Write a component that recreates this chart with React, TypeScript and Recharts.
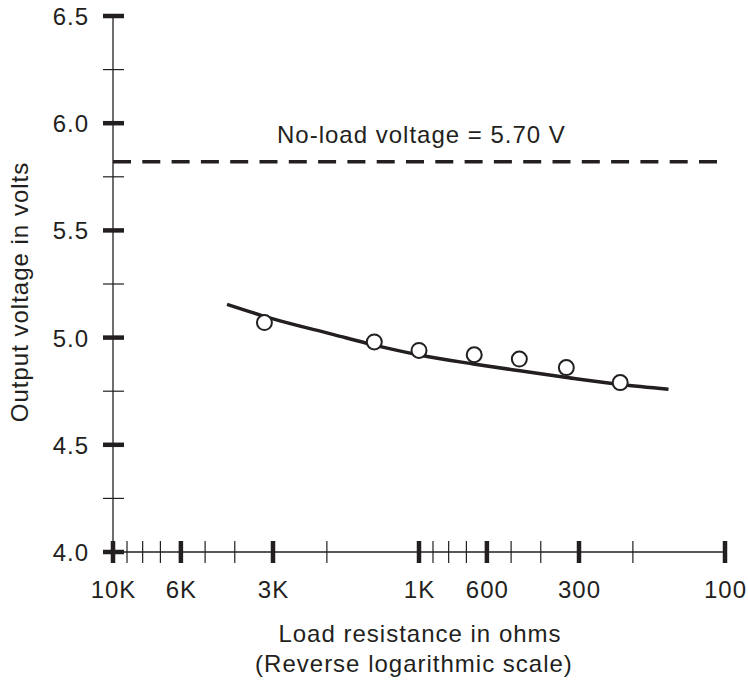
import { ComposedChart, Line, Scatter, XAxis, YAxis, ReferenceLine } from "recharts";

// load resistance ticks (ohms), reverse log scale
const xTicks = [10000, 9000, 8000, 7000, 6000, 5000, 4000, 3000, 2000, 1000, 900, 800, 700, 600, 500, 400, 300, 200, 100];
const xTickLabels = ["10K", "", "", "", "6K", "", "", "3K", "", "1K", "", "", "", "600", "", "", "300", "", "100"];

const yTicks = [4, 4.25, 4.5, 4.75, 5, 5.25, 5.5, 5.75, 6, 6.25, 6.5];
const yTickLabels = ["4.0", "", "4.5", "", "5.0", "", "5.5", "", "6.0", "", "6.5"];

// measured points
const measuredOhms = [3200, 1400, 1000, 660, 470, 330, 220];
const measuredVolts = [5.07, 4.98, 4.94, 4.92, 4.9, 4.86, 4.79];

// fitted curve
const fitOhms = [4240, 3060, 1900, 1410, 990, 664, 468, 329, 220, 153];
const fitVolts = [5.155, 5.091, 5.014, 4.966, 4.918, 4.877, 4.845, 4.814, 4.781, 4.759];

const noLoadVolts = 5.82;

const measured = measuredOhms.map((r, i) => ({ r, v: measuredVolts[i] }));
const fit = fitOhms.map((r, i) => ({ r, v: fitVolts[i] }));

const ink = "#231f20";
const font = "'Liberation Sans', Arial, Helvetica, sans-serif";
const txt = { fill: ink, fontSize: 24, fontFamily: font, letterSpacing: 1 };

const XTick = (props: any) => {
  const { x, y, payload } = props;
  const label = xTickLabels[xTicks.indexOf(payload.value)];
  const major = label !== "";
  return (
    <g>
      <line x1={x} x2={x} y1={y - 11} y2={y + 11} stroke={ink} strokeWidth={major ? 4.5 : 1.2} />
      {major && (
        <text x={x + 0.5} y={y + 45.5} textAnchor="middle" {...txt}>
          {label}
        </text>
      )}
    </g>
  );
};

const YTick = (props: any) => {
  const { x, y, payload } = props;
  const label = yTickLabels[yTicks.indexOf(payload.value)];
  const major = label !== "";
  return (
    <g>
      <line x1={x - 10} x2={x + 11} y1={y} y2={y} stroke={ink} strokeWidth={major ? 4.5 : 1.2} />
      {major && (
        <text x={x - 24} y={y + 9} textAnchor="end" {...txt}>
          {label}
        </text>
      )}
    </g>
  );
};

const NoLoadLabel = (props: any) => {
  const { viewBox } = props;
  return (
    <text x={viewBox.x + 164} y={viewBox.y - 19} {...txt}>
      No-load voltage = 5.70 V
    </text>
  );
};

const Dot = (props: any) => (
  <circle cx={props.cx} cy={props.cy} r={7.5} fill="#fff" stroke={ink} strokeWidth={2} />
);

export default function App() {
  return (
    <div style={{ position: "absolute", left: 0, top: 0, background: "#fff" }}>
      <ComposedChart width={748} height={682} margin={{ top: 16, right: 23, left: 0, bottom: 0 }}>
        <XAxis
          dataKey="r"
          type="number"
          scale="log"
          domain={[100, 10000]}
          reversed
          allowDataOverflow
          ticks={xTicks}
          interval={0}
          tickSize={0}
          tickMargin={0}
          tickLine={false}
          tick={<XTick />}
          height={130}
          axisLine={{ stroke: ink, strokeWidth: 1.3 }}
        />
        <YAxis
          dataKey="v"
          type="number"
          domain={[4, 6.5]}
          ticks={yTicks}
          interval={0}
          tickSize={0}
          tickMargin={0}
          tickLine={false}
          tick={<YTick />}
          width={113}
          axisLine={{ stroke: ink, strokeWidth: 1.3 }}
        />
        <ReferenceLine
          y={noLoadVolts}
          stroke={ink}
          strokeWidth={3.5}
          strokeDasharray="18 11.3"
          label={<NoLoadLabel />}
        />
        <Line
          data={fit}
          dataKey="v"
          type="monotone"
          stroke={ink}
          strokeWidth={3.5}
          dot={false}
          activeDot={false}
          isAnimationActive={false}
        />
        <Scatter data={measured} dataKey="v" shape={<Dot />} isAnimationActive={false} />
        <text transform="translate(28, 292) rotate(-90)" textAnchor="middle" {...txt}>
          Output voltage in volts
        </text>
        <text x={420} y={642} textAnchor="middle" {...txt}>
          Load resistance in ohms
        </text>
        <text x={414} y={672} textAnchor="middle" {...txt}>
          (Reverse logarithmic scale)
        </text>
      </ComposedChart>
    </div>
  );
}
